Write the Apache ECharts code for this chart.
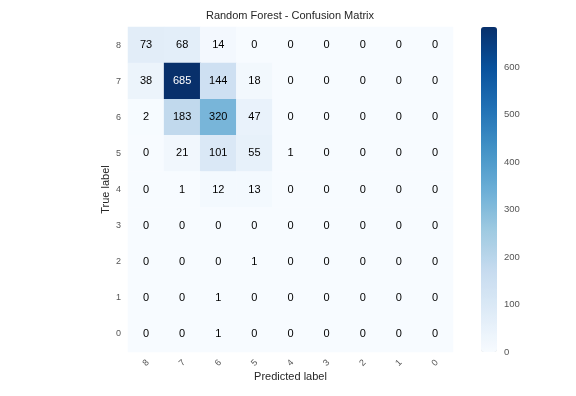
<!DOCTYPE html>
<html><head><meta charset="utf-8">
<script src="https://cdn.jsdelivr.net/npm/echarts@6/dist/echarts.min.js"></script>
<style>html,body{margin:0;padding:0;background:#fff}#c{width:576px;height:396px}</style>
</head><body><div id="c"></div>
<script>
// Predicted label columns (left to right)
var predLabels = ['8','7','6','5','4','3','2','1','0'];
// True label rows (top to bottom)
var trueLabels = ['8','7','6','5','4','3','2','1','0'];
// Matrix rows, top to bottom (true 8 ... true 0)
var row8 = [73, 68, 14, 0, 0, 0, 0, 0, 0];
var row7 = [38, 685, 144, 18, 0, 0, 0, 0, 0];
var row6 = [2, 183, 320, 47, 0, 0, 0, 0, 0];
var row5 = [0, 21, 101, 55, 1, 0, 0, 0, 0];
var row4 = [0, 1, 12, 13, 0, 0, 0, 0, 0];
var row3 = [0, 0, 0, 0, 0, 0, 0, 0, 0];
var row2 = [0, 0, 0, 1, 0, 0, 0, 0, 0];
var row1 = [0, 0, 1, 0, 0, 0, 0, 0, 0];
var row0 = [0, 0, 1, 0, 0, 0, 0, 0, 0];
var colorbarTicks = [0, 100, 200, 300, 400, 500, 600];
var blues = ['#f7fbff','#deebf7','#c6dbef','#9ecae1','#6baed6','#4292c6','#2171b5','#08519c','#08306b'];

var rows = [row8,row7,row6,row5,row4,row3,row2,row1,row0];
var vmax = 685;
var yCats = trueLabels.slice().reverse(); // bottom to top
var data = [];
rows.forEach(function(r, ri){
  var yName = trueLabels[ri];
  r.forEach(function(v, ci){
    data.push({value:[ci, yCats.indexOf(yName), v], label:{color: v > vmax/2 ? '#ffffff' : '#000000'}});
  });
});
var font = 'Arial, "Liberation Sans", sans-serif';
var chart = echarts.init(document.getElementById('c'), null, {renderer:'canvas'});
chart.setOption({
  backgroundColor:'#ffffff',
  animation:false,
  title:{text:'Random Forest - Confusion Matrix', left:290, top:10, textAlign:'center', padding:0,
    textStyle:{fontSize:11, fontWeight:'normal', color:'#262626', fontFamily:font}},
  grid:[
    {left:128, top:27, width:325, height:325},
    {left:481, top:27, width:16, height:325}
  ],
  xAxis:[
    {type:'category', gridIndex:0, data:predLabels, axisLine:{show:false}, axisTick:{show:false},
     splitLine:{show:false},
     axisLabel:{rotate:45, fontSize:9, color:'#555', margin:11, fontFamily:font, align:'center', verticalAlign:'middle'},
     name:'Predicted label', nameLocation:'middle', nameGap:19, nameMoveOverlap:false,
     nameTextStyle:{fontSize:11, color:'#262626', fontFamily:font}},
    {type:'value', gridIndex:1, show:false, min:0, max:1}
  ],
  yAxis:[
    {type:'category', gridIndex:0, data:yCats, axisLine:{show:false}, axisTick:{show:false},
     splitLine:{show:false},
     axisLabel:{fontSize:9, color:'#555', margin:7, fontFamily:font},
     name:'True label', nameLocation:'middle', nameGap:17, nameMoveOverlap:false,
     nameTextStyle:{fontSize:11, color:'#262626', fontFamily:font}},
    {type:'value', gridIndex:1, min:0, max:vmax, interval:100, position:'right',
     axisLine:{show:false}, axisTick:{show:false}, splitLine:{show:false},
     axisLabel:{fontSize:9.5, color:'#555', margin:7, fontFamily:font, showMaxLabel:false,
       formatter:function(v){return colorbarTicks.indexOf(v) >= 0 ? String(v) : '';}}}
  ],
  visualMap:{type:'continuous', min:0, max:vmax, seriesIndex:0, calculable:false, hoverLink:false,
    inRange:{color:blues}, itemWidth:16, itemHeight:325, left:481, top:27, padding:0,
    text:null, showLabel:false, textStyle:{color:'transparent'}},
  series:[{type:'heatmap', xAxisIndex:0, yAxisIndex:0, data:data,
    label:{show:true, fontSize:11, fontFamily:font},
    itemStyle:{borderWidth:0}}]
});
</script></body></html>
